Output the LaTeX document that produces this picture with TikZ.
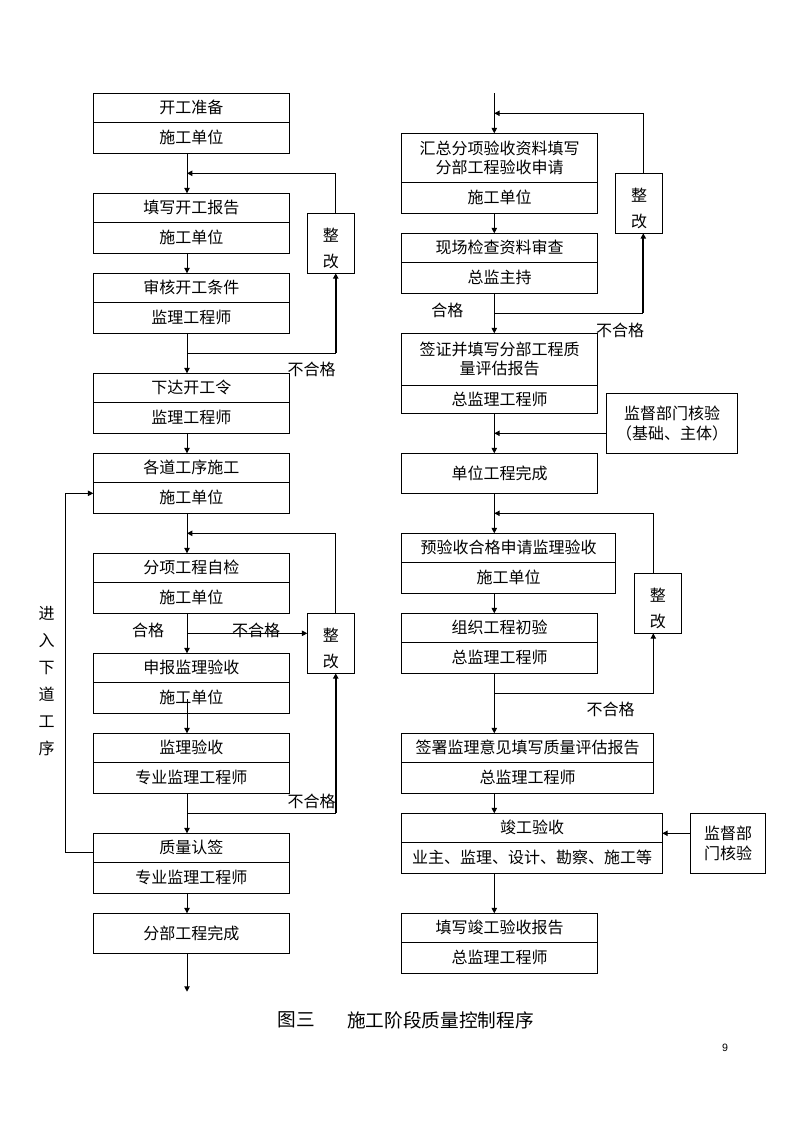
\documentclass[tikz,border=0pt]{standalone}
\usepackage{fontspec}
\newfontfamily\cjk{Noto Sans CJK SC}
\newfontfamily\lsans{Liberation Sans}
\usetikzlibrary{arrows.meta,calc}
\begin{document}
\begin{tikzpicture}[x=0.75pt,y=-0.75pt,
  ln/.style={line width=0.75pt},
  arr/.style={ln,-{Triangle[length=4pt,width=4pt]}},
  arrK/.style={line width=1.5pt,-{Triangle[length=4pt,width=4pt]}},
  cell/.style={draw,line width=0.75pt,inner sep=0pt,outer sep=0pt,anchor=north west,align=center,font=\cjk\fontsize{12}{14.5}\selectfont},
  wL/.style={minimum width=147pt},
  wR/.style={minimum width=146.7pt},
  hT/.style={minimum height=21.75pt},
  hB/.style={minimum height=23.25pt},
  zg/.style={cell,minimum width=35.25pt,minimum height=45pt,text height=38pt,font=\cjk\fontsize{12}{20}\selectfont},
  lbl/.style={inner sep=0pt,font=\cjk\fontsize{12}{14.5}\selectfont},
  vt/.style={inner sep=0pt,align=center,font=\cjk\fontsize{12}{20.25}\selectfont}
]
\useasboundingbox (0,0) rectangle (794,1123);
\fill[white] (0,0) rectangle (794,1123);

% ---------- left column nodes ----------
\node[cell,wL,hT] (L1t) at (93.3,93.3) {开工准备};
\node[cell,wL,hB] (L1b) at (93.3,122.3) {施工单位};
\node[cell,wL,hT] (L2t) at (93.3,193.3) {填写开工报告};
\node[cell,wL,hB] (L2b) at (93.3,222.3) {施工单位};
\node[cell,wL,hT] (L3t) at (93.3,273.3) {审核开工条件};
\node[cell,wL,hB] (L3b) at (93.3,302.3) {监理工程师};
\node[cell,wL,hT] (L4t) at (93.3,373.3) {下达开工令};
\node[cell,wL,hB] (L4b) at (93.3,402.3) {监理工程师};
\node[cell,wL,hT] (L5t) at (93.3,453.3) {各道工序施工};
\node[cell,wL,hB] (L5b) at (93.3,482.3) {施工单位};
\node[cell,wL,hT] (L6t) at (93.3,553.3) {分项工程自检};
\node[cell,wL,hB] (L6b) at (93.3,582.3) {施工单位};
\node[cell,wL,hT] (L7t) at (93.3,653.3) {申报监理验收};
\node[cell,wL,hB] (L7b) at (93.3,682.3) {施工单位};
\node[cell,wL,hT] (L8t) at (93.3,733.3) {监理验收};
\node[cell,wL,hB] (L8b) at (93.3,762.3) {专业监理工程师};
\node[cell,wL,hT] (L9t) at (93.3,833.3) {质量认签};
\node[cell,wL,hB] (L9b) at (93.3,862.3) {专业监理工程师};
\node[cell,wL,minimum height=30pt] (L10) at (93.3,913.3) {分部工程完成};
\node[zg] (Z1) at (307.3,213.3) {整\\改};
\node[zg] (Z2) at (307.3,613.3) {整\\改};
\node[vt] (VT) at (46.7,681) {进\\入\\下\\道\\工\\序};

% ---------- right column nodes ----------
\node[cell,wR,minimum height=36.75pt] (R1t) at (401.7,133.3) {汇总分项验收资料填写\\分部工程验收申请};
\node[cell,wR,hB] (R1b) at (401.7,182.3) {施工单位};
\node[cell,wR,hT] (R2t) at (401.7,233.3) {现场检查资料审查};
\node[cell,wR,hB] (R2b) at (401.7,262.3) {总监主持};
\node[cell,wR,minimum height=38.8pt] (R3t) at (401.7,333.3) {签证并填写分部工程质\\量评估报告};
\node[cell,wR,minimum height=21.2pt] (R3b) at (401.7,385) {总监理工程师};
\node[cell,wR,minimum height=30pt] (R4) at (401.7,453.3) {单位工程完成};
\node[cell,minimum width=160.5pt,hT] (R5t) at (401.7,533.3) {预验收合格申请监理验收};
\node[cell,minimum width=160.5pt,hB] (R5b) at (401.7,562.3) {施工单位};
\node[cell,wR,hT] (R6t) at (401.7,613.3) {组织工程初验};
\node[cell,wR,hB] (R6b) at (401.7,642.3) {总监理工程师};
\node[cell,minimum width=188.7pt,hT] (R7t) at (401.7,733.3) {签署监理意见填写质量评估报告};
\node[cell,minimum width=188.7pt,hB] (R7b) at (401.7,762.3) {总监理工程师};
\node[cell,minimum width=195.45pt,hT] (R8t) at (401.7,813.3) {竣工验收};
\node[cell,minimum width=195.45pt,hB] (R8b) at (401.7,842.3) {业主、监理、设计、勘察、施工等};
\node[cell,wR,hT] (R9t) at (401.7,913.3) {填写竣工验收报告};
\node[cell,wR,hB] (R9b) at (401.7,942.3) {总监理工程师};
\node[zg,minimum width=35pt] (ZR1) at (615.7,173.3) {整\\改};
\node[zg,minimum width=35.5pt] (ZR2) at (634.3,573.3) {整\\改};
\node[cell,minimum width=98.25pt,minimum height=45pt,font=\cjk\fontsize{12}{15}\selectfont] (JD1) at (606.7,393.3) {监督部门核验\\（基础、主体）};
\node[cell,minimum width=56.25pt,minimum height=45pt,font=\cjk\fontsize{12}{15}\selectfont] (JD2) at (690.7,813.3) {监督部\\门核验};

% ---------- labels ----------
\node[lbl] (n1) at (311.5,369.3) {不合格};
\node[lbl] (n2) at (148,630) {合格};
\node[lbl] (n3) at (256,630) {不合格};
\node[lbl] (n4) at (311.7,801.7) {不合格};
\node[lbl] (n5) at (447.3,310) {合格};
\node[lbl] (n6) at (620,330) {不合格};
\node[lbl] (n7) at (610.7,709.3) {不合格};

\node[inner sep=0pt,font=\cjk\fontsize{14}{16}\selectfont] (cap1) at (296.5,1020) {图三};
\node[inner sep=0pt,font=\cjk\fontsize{14}{16}\selectfont] (cap2) at (440.5,1020) {施工阶段质量控制程序};
\node[inner sep=0pt,font=\lsans\fontsize{8}{10}\selectfont] (pg) at (725,1048) {9};

% ---------- coordinates ----------
\coordinate (LX) at (187,0);
\coordinate (RX) at (494.3,0);
\coordinate (j1) at (187,173.3);
\coordinate (j2) at (187,353.3);
\coordinate (j3) at (187,533.3);
\coordinate (j4) at (187,633.3);
\coordinate (j5) at (187,813.3);
\coordinate (c1) at (65.7,852.7);
\coordinate (c2) at (65.7,493.3);
\coordinate (endL) at (187,991.7);
\coordinate (t0) at (494.3,93.3);
\coordinate (k1) at (494.3,113.3);
\coordinate (k2) at (494.3,313.3);
\coordinate (k3) at (494.3,433.3);
\coordinate (k4) at (494.3,513.3);
\coordinate (k5) at (494.3,693.3);
\coordinate (k6) at (690.7,833.3);
\coordinate (z1s) at ([xshift=3.7pt]Z1.south);
\coordinate (z2s) at ([xshift=3.7pt]Z2.south);
\coordinate (zr1s) at ([xshift=3.2pt]ZR1.south);

% ---------- left connectors ----------
\draw[arr] (LX |- L1b.south) -- (LX |- L2t.north);
\draw[arr] ([xshift=3.7pt]Z1.north) |- (j1);
\draw[arr] (LX |- L2b.south) -- (LX |- L3t.north);
\draw[arr] (LX |- L3b.south) -- (LX |- L4t.north);
\draw[ln] (j2) -- (j2 -| z1s);
\draw[arrK] (j2 -| z1s) -- (z1s);
\draw[arr] (LX |- L4b.south) -- (LX |- L5t.north);
\draw[arr] (LX |- L5b.south) -- (LX |- L6t.north);
\draw[arr] ([xshift=3.7pt]Z2.north) |- (j3);
\draw[arr] (LX |- L6b.south) -- (LX |- L7t.north);
\draw[arr] (j4) -- (j4 -| Z2.west);
\draw[arr] ($(LX |- L7b.south)+(0,-14)$) -- (LX |- L8t.north);
\draw[arr] (LX |- L8b.south) -- (LX |- L9t.north);
\draw[ln] (j5) -- (j5 -| z2s);
\draw[arrK] (j5 -| z2s) -- (z2s);
\draw[arr] (L9t.west |- c1) -- (c1) -- (c2) -- (L5b.west |- c2);
\draw[arr] (LX |- L9b.south) -- (LX |- L10.north);
\draw[arr] (LX |- L10.south) -- (endL);

% ---------- right connectors ----------
\draw[arr] (t0) -- (RX |- R1t.north);
\draw[arr] ([xshift=3.2pt]ZR1.north) |- (k1);
\draw[arr] (RX |- R1b.south) -- (RX |- R2t.north);
\draw[arr] (RX |- R2b.south) -- (RX |- R3t.north);
\draw[ln] (k2) -- (k2 -| zr1s);
\draw[arrK] (k2 -| zr1s) -- (zr1s);
\draw[arr] (JD1.west |- k3) -- (k3);
\draw[arr] (RX |- R3b.south) -- (RX |- R4.north);
\draw[arr] (RX |- R4.south) -- (RX |- R5t.north);
\draw[arr] ([xshift=-3.5pt]ZR2.north) |- (k4);
\draw[arr] (RX |- R5b.south) -- (RX |- R6t.north);
\draw[arr] (RX |- R6b.south) -- (RX |- R7t.north);
\draw[arr] (k5) -| ([xshift=-3.5pt]ZR2.south);
\draw[arr] (RX |- R7b.south) -- (RX |- R8t.north);
\draw[arr] (JD2.west |- k6) -- (R8t.east |- k6);
\draw[arr] (RX |- R8b.south) -- (RX |- R9t.north);
\end{tikzpicture}
\end{document}
